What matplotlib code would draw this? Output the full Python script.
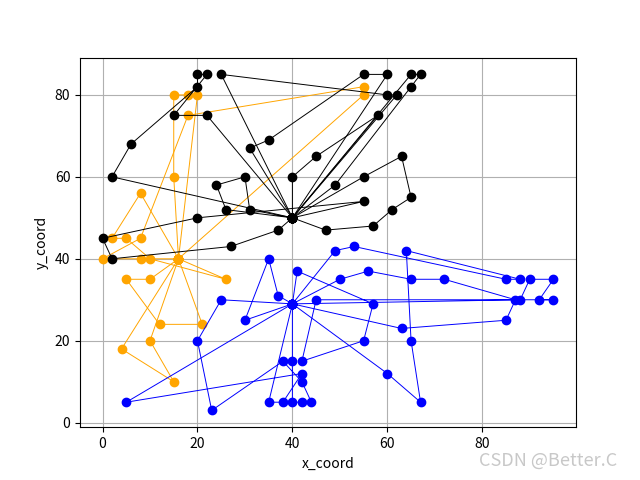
import matplotlib
matplotlib.use("Agg")
import matplotlib.pyplot as plt

plt.rcParams['font.family'] = ['Noto Sans CJK SC', 'DejaVu Sans']
plt.rcParams['axes.unicode_minus'] = False

# depots
depot_black = (40, 50)
depot_orange = (16, 40)
depot_blue = (40, 29)

# routes (customer coordinates in visiting order)
black_routes = [
    [(60, 85), (55, 85), (35, 69), (31, 67)],
    [(25, 85), (60, 80), (62, 80)],
    [(49, 58), (65, 82), (67, 85), (65, 85)],
    [(40, 60), (45, 65), (58, 75)],
    [(55, 60), (63, 65), (65, 55), (61, 52), (57, 48), (47, 47)],
    [(55, 54), (20, 50), (0, 45), (2, 40), (27, 43), (37, 47)],
    [(26, 52), (24, 58), (30, 60), (31, 52)],
    [(2, 60), (6, 68), (20, 82), (20, 85), (22, 85), (15, 75), (22, 75)],
]

orange_routes = [
    [(8, 56), (2, 45), (5, 45), (10, 40), (26, 35)],
    [(8, 40), (0, 40), (8, 45), (18, 75), (55, 82), (55, 80)],
    [(15, 60), (15, 80), (18, 80), (20, 80)],
    [(21, 24), (12, 24), (5, 35), (10, 35)],
    [(10, 20), (15, 10), (4, 18)],
]

blue_routes = [
    [(37, 31), (35, 40), (30, 25)],
    [(25, 30), (20, 20), (23, 3), (38, 15), (42, 10), (44, 5), (42, 5), (40, 5), (40, 15)],
    [(35, 5), (38, 5), (42, 12), (5, 5)],
    [(41, 37), (57, 29), (55, 20), (42, 15), (45, 30), (95, 30), (92, 30), (95, 35), (90, 35), (88, 30)],
    [(49, 42), (53, 43), (85, 35), (88, 35), (64, 42), (65, 20), (67, 5), (60, 12)],
    [(50, 35), (56, 37), (65, 35), (72, 35), (87, 30), (85, 25), (63, 23)],
]

groups = [
    (depot_orange, orange_routes, 'orange'),
    (depot_black, black_routes, 'black'),
    (depot_blue, blue_routes, 'blue'),
]

fig, ax = plt.subplots(figsize=(6.4, 4.8), dpi=100)
for depot, routes, color in groups:
    for r in routes:
        pts = [depot] + r + [depot]
        xs = [p[0] for p in pts]
        ys = [p[1] for p in pts]
        ax.plot(xs, ys, '-', color=color, linewidth=0.7,
                marker='o', markersize=6)

ax.set_xlabel('x_coord')
ax.set_ylabel('y_coord')
ax.grid(True)
fig.text(0.748, 0.03, 'CSDN @Better.C', color='#c8c8c8', fontsize=13)
fig.savefig('out.png')
